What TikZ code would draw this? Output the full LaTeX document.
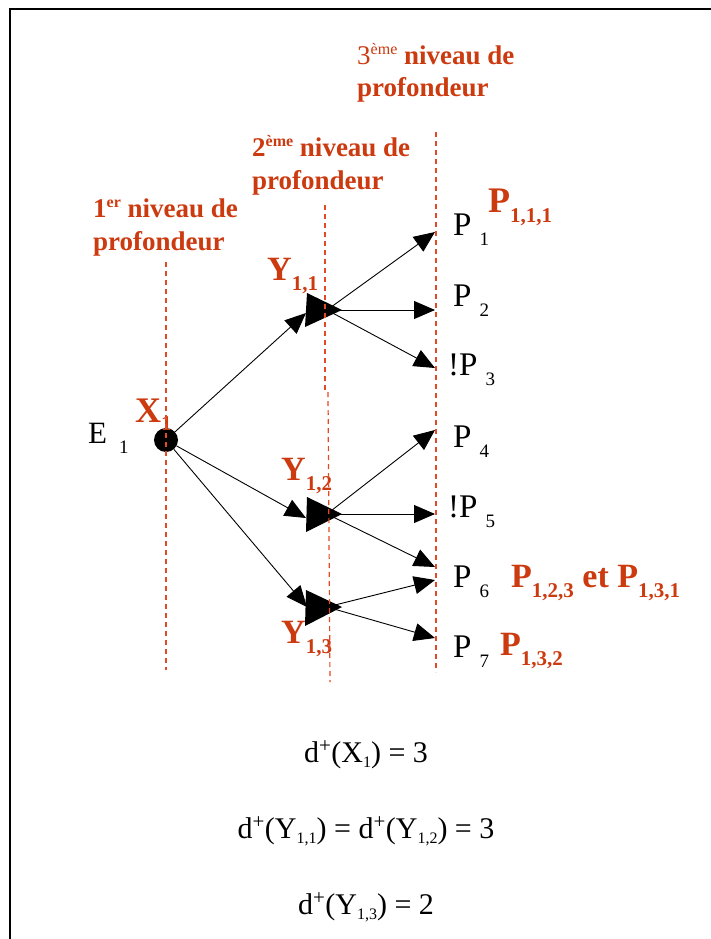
\documentclass[tikz,border=0pt]{standalone}
\usepackage{fontspec}
\setmainfont{Liberation Serif}
\usetikzlibrary{arrows.meta}
\definecolor{labred}{RGB}{204,58,16}
\definecolor{dashred}{RGB}{228,72,36}
\newcommand{\fs}[1]{\fontsize{#1}{#1}\selectfont}
\newcommand{\blk}[2]{#1\hspace{8pt}\raisebox{-10pt}{\fs{19}#2}}
\newcommand{\rdl}[2]{#1\raisebox{-10pt}{\fs{21}#2}}
\newcommand{\eqsub}[1]{\raisebox{-5pt}{\fs{16}#1}}
\begin{document}
\begin{tikzpicture}[x=1pt,y=-1pt,
  arr/.style={-{Triangle[length=21pt,width=18pt]}, line width=0.9pt},
  lvl/.style={dashred, line width=1.2pt, dash pattern=on 5pt off 4pt},
  blab/.style={anchor=base west, inner sep=0pt, font=\fs{33}},
  rlab/.style={anchor=base west, inner sep=0pt, text=labred, font=\fs{34}\bfseries},
  head/.style={anchor=base west, inner sep=0pt, text=labred, font=\fs{27}\bfseries},
  eq/.style={anchor=base, inner sep=0pt, font=\fs{30}}]
\useasboundingbox (0,0) rectangle (711,939);
\fill[white] (0,0) rectangle (711,939);
% frame
\draw[line width=2.5pt] (10,939) -- (10,9) -- (711,9);

% headings
\node[head] (h3a) at (357,65) {\mdseries 3\raisebox{10pt}{\fs{16}ème} \bfseries niveau de};
\node[head] (h3b) at (357,97) {profondeur};
\node[head] (h2a) at (252,157) {2\raisebox{10pt}{\fs{16}ème} niveau de};
\node[head] (h2b) at (252,189) {profondeur};
\node[head] (h1a) at (93,217) {1\raisebox{10pt}{\fs{16}er} niveau de};
\node[head] (h1b) at (93,250) {profondeur};

% root
\node[circle, fill=black, minimum size=24pt, inner sep=0pt] (X1) at (166,440) {};
\node[blab, font=\fs{31}] (E1) at (88,443) {E\hspace{12pt}\raisebox{-10pt}{\fs{19}1}};
\node[rlab, font=\fs{36}\bfseries] (X1l) at (135,422) {X\raisebox{-8pt}{\fs{21}1}};

% level-2 nodes
\coordinate (Y11) at (327,310);
\coordinate (Y12) at (327,514);
\coordinate (Y13) at (327,607);
\coordinate (y11in) at (306,313);
\coordinate (y12in) at (306,518);
\coordinate (y13in) at (307,607);

% leaves (arrow tips)
\coordinate (t1) at (435,232);
\coordinate (t2) at (435,310);
\coordinate (t3) at (435,368);
\coordinate (t4) at (435,430);
\coordinate (t5) at (435,514);
\coordinate (t6a) at (435,567);
\coordinate (t6b) at (435,580);
\coordinate (t7) at (435,638);

% edges
\draw[arr] (X1) -- (y11in);
\draw[arr] (X1) -- (y12in);
\draw[arr] (X1) -- (y13in);
\draw[arr] (Y11) -- (t1);
\draw[arr] (Y11) -- (t2);
\draw[arr] (Y11) -- (t3);
\draw[arr] (Y12) -- (t4);
\draw[arr] (Y12) -- (t5);
\draw[arr] (Y12) -- (t6a);
\draw[arr] (Y13) -- (t6b);
\draw[arr] (Y13) -- (t7);

% Y triangles
\fill (307,293) -- (305,327) -- (342,310) -- cycle;
\fill (307,497) -- (306,532) -- (342,514) -- cycle;
\fill (306,590) -- (305,626) -- (342,607) -- cycle;

% Y labels
\node[rlab] (Y11l) at (267,280) {\rdl{Y}{1,1}};
\node[rlab] (Y12l) at (281,480) {\rdl{Y}{1,2}};
\node[rlab] (Y13l) at (281,643) {\rdl{Y}{1,3}};

% leaf labels
\node[blab] (P1) at (453,235) {\blk{P}{1}};
\node[blab] (P2) at (453,306) {\blk{P}{2}};
\node[blab] (P3) at (448,375) {\blk{!P}{3}};
\node[blab] (P4) at (453,447) {\blk{P}{4}};
\node[blab] (P5) at (448,517) {\blk{!P}{5}};
\node[blab] (P6) at (453,587) {\blk{P}{6}};
\node[blab] (P7) at (453,657) {\blk{P}{7}};

\node[rlab, font=\fs{36}\bfseries] (P111) at (488,212) {\rdl{P}{1,1,1}};
\node[rlab] (P123) at (511,587) {\rdl{P}{1,2,3} et \rdl{P}{1,3,1}};
\node[rlab] (P132) at (500,655) {\rdl{P}{1,3,2}};

% depth lines
\draw[lvl] (166,262) -- (166,670);
\draw[lvl] (325,205) -- (325,390);
\draw[lvl] (328,392) -- (330,682);
\draw[lvl] (436,132) -- (436,672);

% equations
\node[eq] (eq1) at (366,762) {d\textsuperscript{+}(X\eqsub{1}) = 3};
\node[eq] (eq2) at (366,838) {d\textsuperscript{+}(Y\eqsub{1,1}) = d\textsuperscript{+}(Y\eqsub{1,2}) = 3};
\node[eq] (eq3) at (366,914) {d\textsuperscript{+}(Y\eqsub{1,3}) = 2};
\end{tikzpicture}
\end{document}
